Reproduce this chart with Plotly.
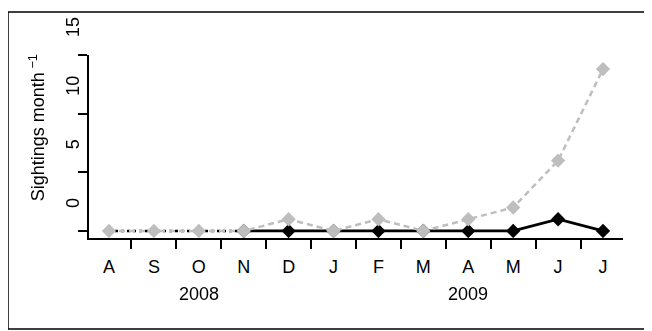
import plotly.graph_objects as go

months = ["A", "S", "O", "N", "D", "J", "F", "M", "A", "M", "J", "J"]
years = ["2008", "2009"]
year_centers = [2, 8]
grey_vals = [0, 0, 0, 0, 1, 0, 1, 0, 1, 2, 6, 13.8]
black_vals = [0, 0, 0, 0, 0, 0, 0, 0, 0, 0, 1, 0]
y_ticks = [0, 5, 10, 15]
pos = list(range(len(months)))

FONT = "Liberation Sans, Arial, sans-serif"
GREY = "#bebebe"

fig = go.Figure()
# black dotted segment (A..N)
fig.add_trace(go.Scatter(x=pos[:4], y=black_vals[:4], mode="lines",
                         line=dict(color="black", width=2.5, dash="3px,3px"),
                         showlegend=False, xaxis="x", yaxis="y"))
# black solid segment (N..J)
fig.add_trace(go.Scatter(x=pos[3:], y=black_vals[3:], mode="lines+markers",
                         line=dict(color="black", width=2.8),
                         marker=dict(symbol="diamond", size=11, color="black"),
                         showlegend=False, xaxis="x", yaxis="y"))
# grey dashed series
fig.add_trace(go.Scatter(x=pos, y=grey_vals, mode="lines+markers",
                         line=dict(color=GREY, width=2.5, dash="6px,4px"),
                         marker=dict(symbol="diamond", size=11, color=GREY),
                         showlegend=False, xaxis="x", yaxis="y"))
# invisible trace for the month-label axis
fig.add_trace(go.Scatter(x=pos, y=grey_vals, mode="markers", opacity=0,
                         showlegend=False, hoverinfo="skip", xaxis="x2", yaxis="y"))

# page body has an 8px margin; compensate so positions match the reference
xr = [-0.445, 11.445]
fig.update_layout(
    width=644, height=323,
    margin=dict(l=81, r=29, t=47, b=93),
    paper_bgcolor="white", plot_bgcolor="white",
    font=dict(family=FONT, size=18, color="black"),
    xaxis=dict(range=xr, showgrid=False, zeroline=False, showline=True,
               linecolor="black", linewidth=2, ticks="outside",
               tickvals=[i + 0.5 for i in pos[:-1]], ticklen=9, tickwidth=1.5,
               tickcolor="black", showticklabels=False),
    xaxis2=dict(range=xr, overlaying="x", side="bottom", showgrid=False,
                zeroline=False, showline=False, ticks="",
                tickvals=pos, ticktext=months, ticklabelstandoff=16,
                tickfont=dict(family=FONT, size=18)),
    yaxis=dict(range=[-0.6, 15], showgrid=False, zeroline=False, showline=True,
               linecolor="black", linewidth=2, ticks="outside",
               tickvals=y_ticks, ticklen=9, tickwidth=1.5, tickcolor="black",
               showticklabels=False),
)

for v in y_ticks:
    fig.add_annotation(x=0, xref="paper", y=v, yref="y", text=str(v),
                       showarrow=False, textangle=-90, xshift=-16, yshift=28,
                       xanchor="center", yanchor="middle",
                       font=dict(family=FONT, size=18))

for yl, xc in zip(years, year_centers):
    fig.add_annotation(x=xc, xref="x", y=0, yref="paper", text=yl,
                       showarrow=False, yshift=-56, xanchor="center",
                       yanchor="middle", font=dict(family=FONT, size=18))

fig.add_annotation(x=0, xref="paper", y=0.60, yref="paper",
                   text="Sightings month<sup> \u22121</sup>", showarrow=False,
                   textangle=-90, xshift=-52, xanchor="center", yanchor="middle",
                   font=dict(family=FONT, size=18))

# outer figure border
fig.add_shape(type="rect", xref="paper", yref="paper",
              x0=-0.1517, x1=1.0487, y0=-0.497, y1=1.235,
              line=dict(color="black", width=1.5), fillcolor="rgba(0,0,0,0)")

fig.write_html("out.html")
